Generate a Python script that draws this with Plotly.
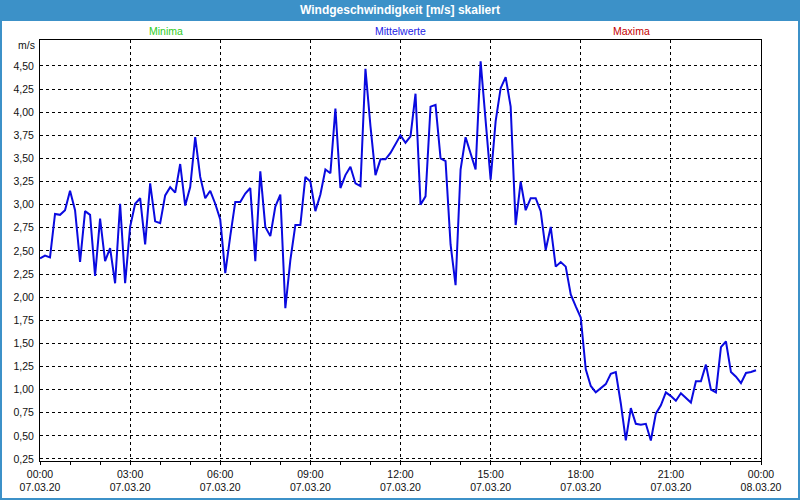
import pandas as pd
import plotly.graph_objects as go

# 10-minute mean wind speed, 07.03.20 00:00 .. 23:50 (m/s)
times = pd.date_range("2020-03-07 00:00", periods=144, freq="10min")
wind = [
    2.42, 2.45, 2.43, 2.90, 2.89, 2.94, 3.15, 2.94, 2.38, 2.93, 2.89, 2.23,
    2.85, 2.39, 2.53, 2.15, 3.01, 2.15, 2.76, 3.01, 3.07, 2.57, 3.23, 2.82,
    2.80, 3.10, 3.19, 3.13, 3.44, 2.99, 3.19, 3.73, 3.30, 3.07, 3.15, 3.01,
    2.84, 2.26, 2.66, 3.03, 3.03, 3.12, 3.18, 2.39, 3.36, 2.76, 2.66, 2.98,
    3.11, 1.88, 2.40, 2.78, 2.78, 3.30, 3.25, 2.93, 3.11, 3.38, 3.34, 4.04,
    3.18, 3.32, 3.41, 3.23, 3.20, 4.47, 3.85, 3.32, 3.49, 3.49, 3.56, 3.65,
    3.75, 3.67, 3.74, 4.20, 3.00, 3.09, 4.06, 4.08, 3.50, 3.47, 2.57, 2.13,
    3.38, 3.73, 3.56, 3.38, 4.55, 3.88, 3.27, 3.90, 4.26, 4.38, 4.06, 2.78,
    3.25, 2.94, 3.07, 3.07, 2.93, 2.51, 2.76, 2.33, 2.38, 2.33, 2.03, 1.90,
    1.78, 1.22, 1.04, 0.97, 1.02, 1.06, 1.17, 1.19, 0.85, 0.45, 0.80, 0.63,
    0.62, 0.63, 0.45, 0.74, 0.83, 0.97, 0.93, 0.88, 0.96, 0.91, 0.86, 1.09,
    1.09, 1.27, 1.00, 0.97, 1.46, 1.52, 1.19, 1.14, 1.07, 1.18, 1.19, 1.21,
]

x_ticks = pd.date_range("2020-03-07 00:00", "2020-03-08 00:00", freq="3h")
x_labels = [f"{t:%H:%M}<br>{t:%d.%m.%y}" for t in x_ticks]
y_ticks = [0.25 * i for i in range(1, 19)]
y_labels = [f"{v:.2f}".replace(".", ",") for v in y_ticks]

title = "Windgeschwindigkeit [m/s] skaliert"
legend_names = ["Minima", "Mittelwerte", "Maxima"]
legend_colors = ["#2ecc1e", "#2222e6", "#c40000"]

# plot area in pixels
W, H = 800, 500
L, R, T, B = 40, 761, 40, 461
frame_blue = "#3c91c8"
font = "Liberation Sans"


def px(x):
    return (x - L) / (R - L)


def py(y):
    return (B - y) / (B - T)


fig = go.Figure()
fig.add_trace(go.Scatter(x=times, y=wind, mode="lines",
                         line=dict(color="#0a0ae0", width=2), showlegend=False))

fig.update_layout(
    width=W, height=H,
    margin=dict(l=L, r=W - R, t=T, b=H - B),
    paper_bgcolor="white", plot_bgcolor="white",
    font=dict(family=font, size=10.5, color="#111111"),
    showlegend=False,
)
fig.update_xaxes(
    range=[x_ticks[0], x_ticks[-1]],
    tickvals=x_ticks, ticktext=x_labels,
    ticks="outside", ticklen=3, tickcolor="black",
    minor=dict(dtick=3600000, ticks="outside", ticklen=3, tickcolor="black", showgrid=False),
    showgrid=True, gridcolor="black", gridwidth=1, griddash="3px,3px",
    showline=True, linecolor="black", linewidth=1, mirror=True,
    zeroline=False, automargin=False,
)
fig.update_yaxes(
    range=[0.228, 4.781],
    tickvals=y_ticks, ticktext=y_labels,
    ticks="", ticklabelstandoff=3,
    showgrid=True, gridcolor="black", gridwidth=1, griddash="3px,3px",
    showline=True, linecolor="black", linewidth=1, mirror=True,
    zeroline=False, automargin=False,
)

# window title bar and frame
fig.add_shape(type="rect", xref="paper", yref="paper",
              x0=px(0), x1=px(800), y0=py(21), y1=py(0),
              fillcolor=frame_blue, line=dict(width=0))
fig.add_shape(type="rect", xref="paper", yref="paper",
              x0=px(1), x1=px(799), y0=py(499), y1=py(1),
              line=dict(color=frame_blue, width=2))

fig.add_annotation(text=f"<b>{title}</b>", xref="paper", yref="paper",
                   x=px(400), y=py(10), yanchor="middle", showarrow=False,
                   font=dict(family=font, size=12, color="white"))
for name, color, xc in zip(legend_names, legend_colors, [147, 400, 652]):
    fig.add_annotation(text=name, xref="paper", yref="paper",
                       x=px(xc), y=py(31), yanchor="middle", showarrow=False,
                       font=dict(family=font, size=10.5, color=color))
fig.add_annotation(text="m/s", xref="paper", yref="paper",
                   x=px(37), y=py(45), xanchor="right", yanchor="middle", showarrow=False,
                   font=dict(family=font, size=10.5, color="#111111"))

fig.write_html("out.html", config={"displayModeBar": False},
               post_script="document.body.style.margin='0';document.body.style.overflow='hidden';")
